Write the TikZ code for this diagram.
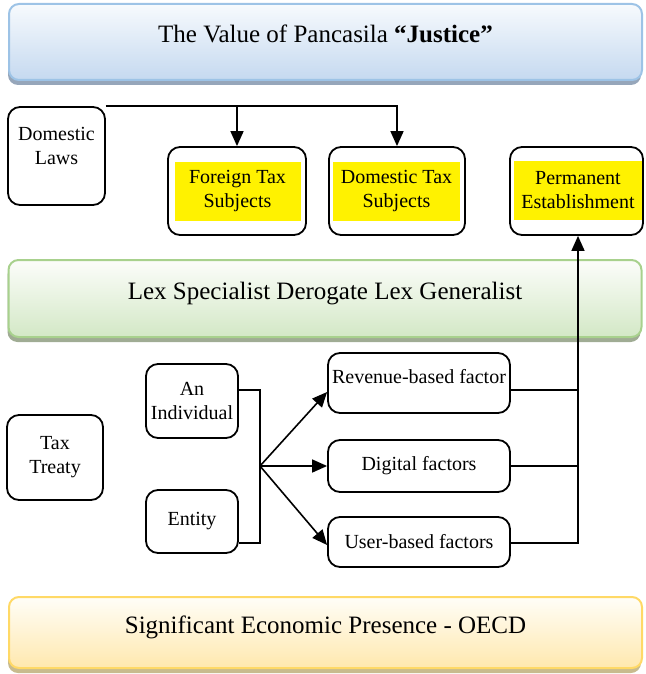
\documentclass[tikz,border=0pt]{standalone}
\usepackage{fontspec}
\setmainfont{Liberation Serif}
\usetikzlibrary{arrows.meta,shadows}
\definecolor{blueline}{RGB}{157,195,230}
\definecolor{bluetop}{RGB}{247,250,253}
\definecolor{bluebot}{RGB}{197,217,240}
\definecolor{blueshd}{RGB}{150,166,186}
\definecolor{greenline}{RGB}{168,209,141}
\definecolor{greentop}{RGB}{252,253,250}
\definecolor{greenbot}{RGB}{211,232,198}
\definecolor{greenshd}{RGB}{160,172,148}
\definecolor{goldline}{RGB}{255,217,102}
\definecolor{goldtop}{RGB}{255,254,248}
\definecolor{goldbot}{RGB}{255,232,174}
\definecolor{goldshd}{RGB}{200,187,142}

\begin{document}
\begin{tikzpicture}[x=1pt,y=-1pt,
  band/.style={rounded corners=10pt, line width=2pt, minimum width=633pt, inner sep=0pt,
    font=\fontsize{25}{30}\selectfont, text height=18pt, text depth=16pt},
  blueband/.style={band, draw=blueline, top color=bluetop, bottom color=bluebot,
    drop shadow={shadow xshift=-1pt, shadow yshift=-5pt, fill=blueshd, opacity=1}},
  greenband/.style={band, draw=greenline, top color=greentop, bottom color=greenbot,
    drop shadow={shadow xshift=-1pt, shadow yshift=-5pt, fill=greenshd, opacity=1}},
  goldband/.style={band, draw=goldline, top color=goldtop, bottom color=goldbot,
    drop shadow={shadow xshift=-1pt, shadow yshift=-5pt, fill=goldshd, opacity=1}},
  box/.style={draw, rounded corners=12pt, line width=1.8pt, inner sep=0pt, align=center,
    font=\fontsize{20}{24}\selectfont},
  hl/.style={fill=yellow, inner sep=0pt, align=center, font=\fontsize{20}{24}\selectfont},
  txt/.style={inner sep=0pt, align=center, font=\fontsize{20}{24}\selectfont},
  con/.style={line width=1.6pt},
  arr/.style={con, -{Triangle[length=15pt,width=13pt]}}]
\useasboundingbox (0,0) rectangle (645,674);
\node[blueband, minimum height=76pt] (justice) at (325.5,42) {The Value of Pancasila \textbf{“Justice”}};
\node[greenband, minimum height=77pt] (lex) at (325,298.5) {Lex Specialist Derogate Lex Generalist};
\node[goldband, minimum height=71pt] (sep) at (325.5,632.5) {Significant Economic Presence - OECD};
\node[box, minimum width=97pt, minimum height=98pt] (dlaw) at (56.5,156) {};
\node[txt] (dlawt) at (56.5,145.5) {Domestic\\Laws};
\node[box, minimum width=138pt, minimum height=88pt] (ftax) at (237,191) {};
\node[hl, minimum width=126pt, minimum height=59pt] (ftaxt) at (237.5,191.5) {Foreign Tax\\Subjects};
\node[box, minimum width=136pt, minimum height=88pt] (dtax) at (397,191) {};
\node[hl, minimum width=127pt, minimum height=59pt] (dtaxt) at (396.5,191.5) {Domestic Tax\\Subjects};
\node[box, minimum width=133pt, minimum height=88pt] (perm) at (576.5,191) {};
\node[hl, minimum width=128pt, minimum height=59pt] (permt) at (578,190) {Permanent\\Establishment};
\node[box, minimum width=96pt, minimum height=85pt] (treaty) at (55,457.5) {Tax\\Treaty};
\node[box, minimum width=92pt, minimum height=74pt] (indiv) at (192,401) {An\\Individual};
\node[box, minimum width=92pt, minimum height=63pt] (entity) at (192,521.5) {Entity};
\node[box, minimum width=182pt, minimum height=60pt] (rev) at (419,383) {};
\node[txt] (revt) at (419,377) {Revenue-based factor};
\node[box, minimum width=182pt, minimum height=52pt] (dig) at (419,466) {Digital factors};
\node[box, minimum width=182pt, minimum height=50pt] (user) at (419,542) {User-based factors};
\draw[arr] (dlaw.north east) -| (ftax.north);
\draw[arr] (dlaw.north east) -| (dtax.north);
\coordinate (fan) at (260,466);
\draw[con] (indiv.east |- 0,390) -| (fan) |- (entity.east |- 0,543);
\draw[arr] (fan) -- (rev.west |- 0,392);
\draw[arr] (fan) -- (dig.west);
\draw[arr] (fan) -- (user.west |- 0,545);
\coordinate (rise) at (578,543);
\draw[arr] (user.east |- rise) -- (rise) -- (rise |- perm.south);
\draw[con] (rev.east |- 0,390) -- (rise |- 0,390);
\draw[con] (dig.east) -- (dig.east -| rise);
\end{tikzpicture}
\end{document}
